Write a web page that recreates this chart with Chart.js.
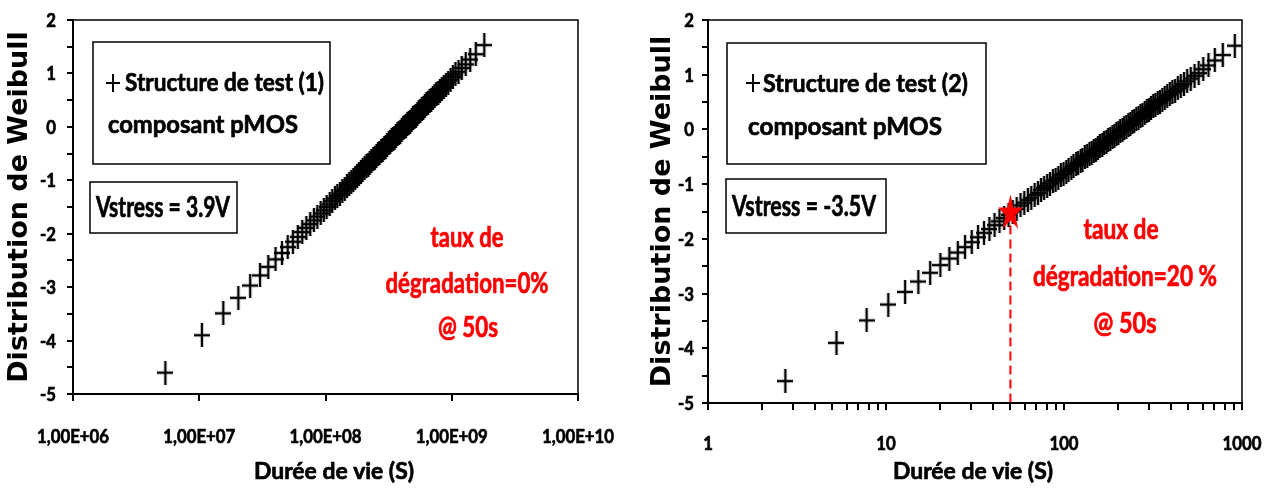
<!DOCTYPE html>
<html>
<head>
<meta charset="utf-8">
<script src="https://cdn.jsdelivr.net/npm/chart.js@4.4.1/dist/chart.umd.min.js"></script>
<style>
  body { margin: 0; background: #fff; }
  #wrap { position: relative; width: 1271px; height: 488px; }
  canvas { position: absolute; top: 0; }
  #chart1 { left: 0; }
  #chart2 { left: 640px; }
</style>
</head>
<body>
<div id="wrap">
  <canvas id="chart1" width="640" height="488"></canvas>
  <canvas id="chart2" width="631" height="488"></canvas>
</div>
<script>
// Weibull plotting positions (same 99 ranks for both test structures)
const weibullY = [
  -4.60, -3.90, -3.49, -3.20, -2.97, -2.78, -2.62, -2.48, -2.36, -2.25,
  -2.15, -2.06, -1.97, -1.89, -1.82, -1.75, -1.68, -1.62, -1.56, -1.50,
  -1.45, -1.39, -1.34, -1.29, -1.25, -1.20, -1.16, -1.11, -1.07, -1.03,
  -0.99, -0.95, -0.92, -0.88, -0.84, -0.81, -0.77, -0.74, -0.71, -0.67,
  -0.64, -0.61, -0.58, -0.55, -0.51, -0.48, -0.45, -0.43, -0.40, -0.37,
  -0.34, -0.31, -0.28, -0.25, -0.23, -0.20, -0.17, -0.14, -0.12, -0.09,
  -0.06, -0.03, -0.01, 0.02, 0.05, 0.08, 0.10, 0.13, 0.16, 0.19,
  0.21, 0.24, 0.27, 0.30, 0.33, 0.36, 0.39, 0.42, 0.45, 0.48,
  0.51, 0.54, 0.57, 0.61, 0.64, 0.68, 0.71, 0.75, 0.79, 0.83,
  0.88, 0.93, 0.98, 1.03, 1.10, 1.17, 1.26, 1.36, 1.53
];

// lifetimes (s), test structure (1), Vstress = 3.9V
const lifeTest1 = [
  5.39e6, 1.05e7, 1.55e7, 2.04e7, 2.53e7, 3.03e7, 3.52e7, 4.02e7, 4.52e7, 5.02e7,
  5.52e7, 6.03e7, 6.54e7, 7.05e7, 7.57e7, 8.09e7, 8.62e7, 9.15e7, 9.69e7, 1.02e8,
  1.08e8, 1.13e8, 1.19e8, 1.24e8, 1.30e8, 1.36e8, 1.42e8, 1.48e8, 1.54e8, 1.60e8,
  1.66e8, 1.72e8, 1.78e8, 1.84e8, 1.91e8, 1.97e8, 2.04e8, 2.11e8, 2.18e8, 2.24e8,
  2.31e8, 2.39e8, 2.46e8, 2.53e8, 2.61e8, 2.68e8, 2.76e8, 2.84e8, 2.92e8, 3.00e8,
  3.08e8, 3.17e8, 3.25e8, 3.34e8, 3.43e8, 3.52e8, 3.61e8, 3.71e8, 3.81e8, 3.91e8,
  4.01e8, 4.12e8, 4.22e8, 4.33e8, 4.45e8, 4.56e8, 4.68e8, 4.81e8, 4.93e8, 5.06e8,
  5.20e8, 5.34e8, 5.48e8, 5.63e8, 5.79e8, 5.95e8, 6.12e8, 6.29e8, 6.48e8, 6.67e8,
  6.87e8, 7.08e8, 7.31e8, 7.54e8, 7.80e8, 8.07e8, 8.35e8, 8.66e8, 9.00e8, 9.37e8,
  9.78e8, 1.02e9, 1.07e9, 1.13e9, 1.20e9, 1.29e9, 1.40e9, 1.55e9, 1.81e9
];

// lifetimes (s), test structure (2), Vstress = -3.5V
const lifeTest2 = [
  2.72, 5.27, 7.78, 10.3, 12.8, 15.2, 17.7, 20.2, 22.7, 25.3,
  27.8, 30.3, 32.9, 35.5, 38.1, 40.7, 43.4, 46.1, 48.8, 51.5,
  54.2, 57.0, 59.8, 62.7, 65.5, 68.4, 71.4, 74.3, 77.3, 80.4,
  83.4, 86.6, 89.7, 92.9, 96.1, 99.4, 103, 106, 110, 113,
  117, 120, 124, 127, 131, 135, 139, 143, 147, 151,
  155, 159, 164, 168, 173, 177, 182, 187, 192, 197,
  202, 207, 213, 218, 224, 230, 236, 242, 248, 255,
  262, 269, 276, 284, 292, 300, 308, 317, 326, 336,
  346, 357, 368, 380, 393, 406, 421, 436, 453, 472,
  492, 515, 541, 571, 606, 648, 703, 780, 911
];

// 20 % degradation point at 50 s
const degradX = [50];
const degradY = [-1.5];

// axis ticks
const ticks1 = [1e6, 1e7, 1e8, 1e9, 1e10];
const tickLabels1 = ["1,00E+06", "1,00E+07", "1,00E+08", "1,00E+09", "1,00E+10"];
const ticks2 = [1, 10, 100, 1000];
const tickLabels2 = ["1", "10", "100", "1000"];

const lato = 'Lato, "Liberation Sans", sans-serif';
const wide = '"DejaVu Sans", Verdana, sans-serif';

// elongated "+" marker like the original sheet
function makeCross(w, h, lw) {
  const c = document.createElement("canvas");
  c.width = w;
  c.height = h;
  const g = c.getContext("2d");
  g.strokeStyle = "#000";
  g.lineWidth = lw;
  g.beginPath();
  g.moveTo(0, h / 2);
  g.lineTo(w, h / 2);
  g.moveTo(w / 2, 0);
  g.lineTo(w / 2, h);
  g.stroke();
  return c;
}

function makeStar(w, h) {
  const c = document.createElement("canvas");
  c.width = w;
  c.height = h;
  const g = c.getContext("2d");
  const rx = w / 1.902;
  const ry = h / 1.809;
  g.fillStyle = "#ff0000";
  g.beginPath();
  for (let i = 0; i < 10; i++) {
    const k = i % 2 === 0 ? 1 : 0.382;
    const a = -Math.PI / 2 + (i * Math.PI) / 5;
    g.lineTo(w / 2 + Math.cos(a) * rx * k, ry + Math.sin(a) * ry * k);
  }
  g.closePath();
  g.fill();
  return c;
}

const crossImg = makeCross(16, 24, 2.4);
const starImg = makeStar(25, 34);

// bold narrow text (the original uses a squeezed Calibri bold)
// t.w = target width, or t.sx = fixed horizontal squeeze
function fitText(ctx, t) {
  ctx.font = "bold " + t.size + "px " + lato;
  const natural = ctx.measureText(t.text).width;
  const sx = t.w ? t.w / natural : t.sx;
  ctx.save();
  ctx.translate(t.x, t.y);
  ctx.scale(sx, 1);
  ctx.textAlign = t.align || "center";
  ctx.textBaseline = "alphabetic";
  ctx.fillStyle = t.color || "#000";
  ctx.strokeStyle = t.color || "#000";
  ctx.lineWidth = 0.7;
  ctx.lineJoin = "round";
  ctx.fillText(t.text, 0, t.size * 0.36);
  ctx.strokeText(t.text, 0, t.size * 0.36);
  ctx.restore();
}

// frame round the plot area
const framePlugin = {
  id: "frame",
  afterDatasetsDraw(chart) {
    const { ctx, chartArea: a } = chart;
    ctx.save();
    ctx.strokeStyle = "#000";
    ctx.lineWidth = 1.5;
    ctx.strokeRect(a.left, a.top, a.right - a.left, a.bottom - a.top);
    ctx.restore();
  }
};

// dashed line dropped from the degradation point
const dropLinePlugin = {
  id: "dropLine",
  beforeDatasetsDraw(chart, args, opts) {
    if (!opts.show) return;
    const { ctx, scales } = chart;
    const x = scales.x.getPixelForValue(degradX[0]);
    const y = scales.y.getPixelForValue(degradY[0]);
    ctx.save();
    ctx.strokeStyle = "#ff0000";
    ctx.lineWidth = 2;
    ctx.setLineDash([9, 5]);
    ctx.beginPath();
    ctx.moveTo(x, y);
    ctx.lineTo(x, chart.chartArea.bottom);
    ctx.stroke();
    ctx.restore();
  }
};

// tick labels and x title, placed from the chart scales
const axisTextPlugin = {
  id: "axisText",
  afterDraw(chart, args, opts) {
    const { ctx, scales, chartArea } = chart;
    ctx.save();
    scales.x.ticks.forEach(tk => {
      const k = opts.xTicks.indexOf(tk.value);
      if (k < 0) return;
      fitText(ctx, {
        text: opts.xLabels[k],
        x: scales.x.getPixelForValue(tk.value),
        y: chartArea.bottom + opts.xLabelDy,
        size: 19.5,
        sx: 0.86
      });
    });
    scales.y.ticks.forEach(tk => {
      if (!Number.isInteger(tk.value)) return;
      fitText(ctx, {
        text: String(tk.value),
        x: chartArea.left - opts.yLabelDx,
        y: scales.y.getPixelForValue(tk.value),
        size: 19.5,
        sx: 0.86,
        align: "right"
      });
    });
    fitText(ctx, opts.title);
    ctx.restore();
  }
};

// text boxes and red notes
const notesPlugin = {
  id: "notes",
  afterDraw(chart, args, opts) {
    const ctx = chart.ctx;
    ctx.save();
    ctx.strokeStyle = "#000";
    ctx.lineWidth = 1.5;
    opts.boxes.forEach(b => ctx.strokeRect(b.x, b.y, b.w, b.h));
    // legend marker
    ctx.lineWidth = 2;
    ctx.beginPath();
    ctx.moveTo(opts.marker.x - 7, opts.marker.y);
    ctx.lineTo(opts.marker.x + 7, opts.marker.y);
    ctx.moveTo(opts.marker.x, opts.marker.y - 9);
    ctx.lineTo(opts.marker.x, opts.marker.y + 9);
    ctx.stroke();
    opts.texts.forEach(t => fitText(ctx, t));
    ctx.restore();
  }
};

function makeWeibullChart(id, s) {
  const ctx = document.getElementById(id);
  const points = s.life.map((x, i) => ({ x: x, y: weibullY[i] }));
  const datasets = [];
  if (s.star) {
    datasets.push({
      data: degradX.map((x, i) => ({ x: x, y: degradY[i] })),
      pointStyle: starImg,
      order: 0
    });
  }
  datasets.push({
    data: points,
    pointStyle: crossImg,
    order: 1
  });

  return new Chart(ctx, {
    type: "scatter",
    data: { datasets: datasets },
    plugins: [framePlugin, dropLinePlugin, axisTextPlugin, notesPlugin],
    options: {
      responsive: false,
      animation: false,
      devicePixelRatio: 1,
      layout: { padding: { left: 0, top: 20, right: s.padRight, bottom: 0 } },
      plugins: {
        legend: { display: false },
        tooltip: { enabled: false },
        dropLine: { show: !!s.star },
        axisText: {
          xTicks: s.ticks,
          xLabels: s.tickLabels,
          xLabelDy: s.xLabelDy,
          yLabelDx: s.yLabelDx,
          title: { text: "Durée de vie (S)", x: s.titleX, y: 471, w: 160, size: 23.5 }
        },
        notes: s.notes
      },
      scales: {
        x: {
          type: "logarithmic",
          min: s.ticks[0],
          max: s.ticks[s.ticks.length - 1],
          afterBuildTicks: axis => {
            axis.ticks = s.tickValues.map(v => ({ value: v }));
          },
          afterFit: axis => {
            axis.height = s.xAxisHeight;
            axis.paddingLeft = 0;
            axis.paddingRight = 0;
          },
          grid: { drawOnChartArea: false, drawTicks: true, tickLength: 7, color: "#000", lineWidth: 2 },
          border: { display: true, color: "#000", width: 2 },
          ticks: { display: false, autoSkip: false },
          title: { display: false, text: "Durée de vie (S)" }
        },
        y: {
          min: -5,
          max: 2,
          afterFit: axis => {
            axis.width = s.yAxisWidth;
          },
          grid: { drawOnChartArea: false, drawTicks: true, tickLength: 6, color: "#000", lineWidth: 2 },
          border: { display: true, color: "#000", width: 2 },
          ticks: { display: false, stepSize: 0.5 },
          title: {
            display: true,
            text: "Distribution de Weibull",
            color: "#000",
            font: { family: wide, size: 27, weight: "bold" },
            padding: { top: s.yTitlePad, bottom: 0 }
          }
        }
      }
    }
  });
}

// minor ticks for the right-hand log axis (2..9 in each decade)
const ticks2All = [];
ticks2.forEach((d, i) => {
  ticks2All.push(d);
  if (i < ticks2.length - 1) {
    for (let m = 2; m <= 9; m++) ticks2All.push(d * m);
  }
});

makeWeibullChart("chart1", {
  life: lifeTest1,
  ticks: ticks1,
  tickValues: ticks1,
  tickLabels: tickLabels1,
  padRight: 62,
  xAxisHeight: 94,
  yAxisWidth: 73,
  xLabelDy: 42,
  yLabelDx: 17,
  yTitlePad: 4,
  titleX: 334,
  notes: {
    boxes: [{ x: 93, y: 42, w: 237, h: 122 }, { x: 90, y: 182, w: 147, h: 51 }],
    marker: { x: 113, y: 83 },
    texts: [
      { text: "Structure de test (1)", x: 125, y: 82, w: 199, size: 25, align: "left" },
      { text: "composant pMOS", x: 203, y: 124, w: 190, size: 25 },
      { text: "Vstress = 3.9V", x: 163, y: 207, w: 134, size: 29 },
      { text: "taux de", x: 467, y: 237, w: 73, size: 28, color: "#ff0000" },
      { text: "dégradation=0%", x: 467, y: 283, w: 163, size: 28, color: "#ff0000" },
      { text: "@ 50s", x: 468, y: 327, w: 60, size: 28, color: "#ff0000" }
    ]
  }
});

makeWeibullChart("chart2", {
  life: lifeTest2,
  ticks: ticks2,
  tickValues: ticks2All,
  tickLabels: tickLabels2,
  star: true,
  padRight: 29,
  xAxisHeight: 85,
  yAxisWidth: 68,
  xLabelDy: 40,
  yLabelDx: 14,
  yTitlePad: 7,
  titleX: 333,
  notes: {
    boxes: [{ x: 87, y: 43, w: 259, h: 121 }, { x: 86, y: 179, w: 160, h: 54 }],
    marker: { x: 113, y: 83 },
    texts: [
      { text: "Structure de test (2)", x: 123, y: 83, w: 205, size: 25, align: "left" },
      { text: "composant pMOS", x: 205, y: 126, w: 194, size: 25 },
      { text: "Vstress = -3.5V", x: 164, y: 206, w: 144, size: 29 },
      { text: "taux de", x: 481, y: 229, w: 75, size: 28, color: "#ff0000" },
      { text: "dégradation=20 %", x: 485, y: 276, w: 184, size: 28, color: "#ff0000" },
      { text: "@ 50s", x: 485, y: 323, w: 63, size: 28, color: "#ff0000" }
    ]
  }
});
</script>
</body>
</html>
